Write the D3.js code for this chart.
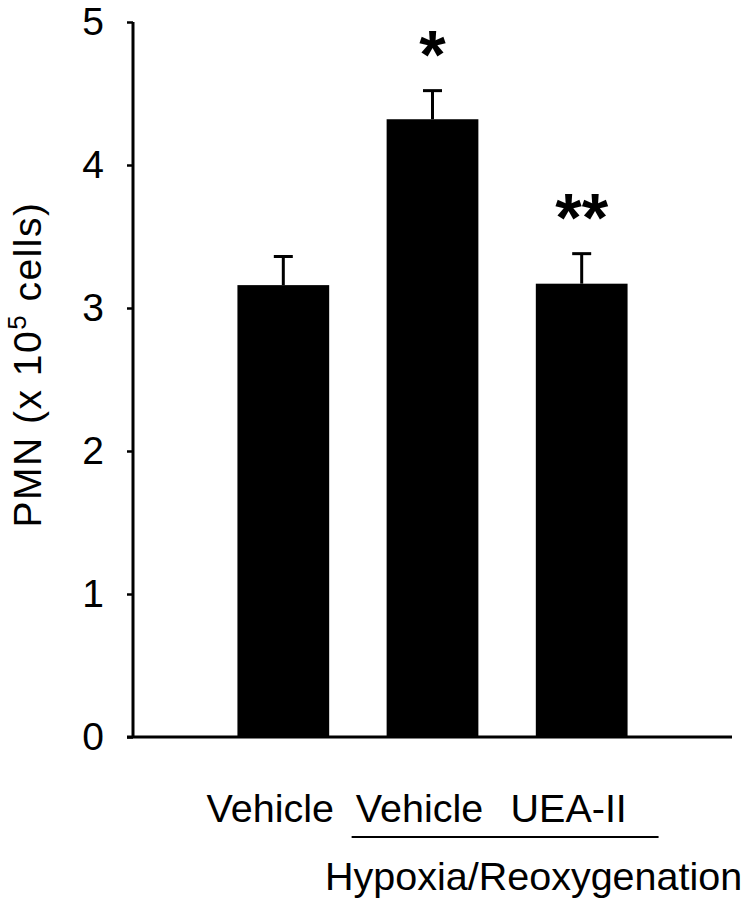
<!DOCTYPE html>
<html>
<head>
<meta charset="utf-8">
<script src="https://cdn.jsdelivr.net/npm/d3@7"></script>
<style>
  html, body { margin: 0; padding: 0; background: #fff; }
  svg { display: block; font-family: "Liberation Sans", Arial, sans-serif; }
</style>
</head>
<body>
<svg id="chart" width="746" height="900"></svg>
<script>
const categories = ["Vehicle", "Vehicle H/R", "UEA-II H/R"];
const labels = ["Vehicle", "Vehicle", "UEA-II"];
const means = [3.16, 4.32, 3.17];
const errors = [0.20, 0.20, 0.21];
const marks = ["", "*", "**"];
const yTicks = [0, 1, 2, 3, 4, 5];
const groupLabel = "Hypoxia/Reoxygenation";
const groupMembers = ["Vehicle H/R", "UEA-II H/R"];

const svg = d3.select("#chart");
const axisX = 133, axisY = 737, topY = 22, rightX = 732;

const x = d3.scaleBand().domain(categories).range([axisX, rightX])
    .paddingInner(0.385).paddingOuter(0.7);
const y = d3.scaleLinear().domain([0, 5]).range([axisY, topY]);

// bars
svg.selectAll(".bar").data(categories).enter().append("rect")
    .attr("x", d => x(d))
    .attr("width", x.bandwidth())
    .attr("y", (d, i) => y(means[i]))
    .attr("height", (d, i) => axisY - y(means[i]))
    .attr("fill", "#000");

// error bars, upper half only
const eb = svg.append("g").attr("stroke", "#000").attr("stroke-width", 3);
categories.forEach((c, i) => {
    const cx = x(c) + x.bandwidth() / 2;
    eb.append("line").attr("x1", cx).attr("x2", cx)
        .attr("y1", y(means[i])).attr("y2", y(means[i] + errors[i]));
    eb.append("line").attr("x1", cx - 9.5).attr("x2", cx + 9.5)
        .attr("y1", y(means[i] + errors[i])).attr("y2", y(means[i] + errors[i]));
});

// significance marks
svg.selectAll(".mark").data(categories).enter().append("text")
    .attr("x", d => x(d) + x.bandwidth() / 2)
    .attr("y", (d, i) => y(means[i] + errors[i]) - 13)
    .attr("text-anchor", "middle")
    .attr("font-size", 68)
    .attr("font-weight", "bold")
    .text((d, i) => marks[i]);

// y axis
const yAxis = d3.axisLeft(y).tickValues(yTicks).tickFormat(d3.format("d"))
    .tickSize(6).tickPadding(23).tickSizeOuter(0);
const gy = svg.append("g").attr("transform", `translate(${axisX},0)`).call(yAxis);
gy.select(".domain").attr("stroke-width", 3).attr("d", `M0,${topY}V${axisY}`);
gy.selectAll(".tick line").attr("stroke-width", 2.5);
gy.selectAll(".tick text").attr("font-size", 39).attr("fill", "#000")
    .attr("font-family", "Liberation Sans, Arial, sans-serif");

// x axis line
svg.append("line").attr("x1", axisX - 6).attr("x2", rightX)
    .attr("y1", axisY).attr("y2", axisY)
    .attr("stroke", "#000").attr("stroke-width", 3);

// category labels
svg.selectAll(".lab").data(categories).enter().append("text")
    .attr("x", d => x(d) + x.bandwidth() / 2 - 13)
    .attr("y", 822)
    .attr("text-anchor", "middle")
    .attr("font-size", 39.5)
    .text((d, i) => labels[i]);

// group underline + label
const g0 = x(groupMembers[0]) - 35, g1 = x(groupMembers[1]) + x.bandwidth() + 31;
svg.append("line").attr("x1", g0).attr("x2", g1).attr("y1", 837).attr("y2", 837)
    .attr("stroke", "#000").attr("stroke-width", 2);
svg.append("text").attr("x", 325).attr("y", 890)
    .attr("font-size", 39.5).text(groupLabel);

// y title
const yt = svg.append("text")
    .attr("transform", `translate(41,${(topY + axisY) / 2 - 15}) rotate(-90)`)
    .attr("text-anchor", "middle")
    .attr("font-size", 39)
    .attr("letter-spacing", 1.5);
yt.append("tspan").text("PMN (x 10");
yt.append("tspan").attr("font-size", 26).attr("dy", -15).text("5");
yt.append("tspan").attr("dy", 15).text(" cells)");
</script>
</body>
</html>
